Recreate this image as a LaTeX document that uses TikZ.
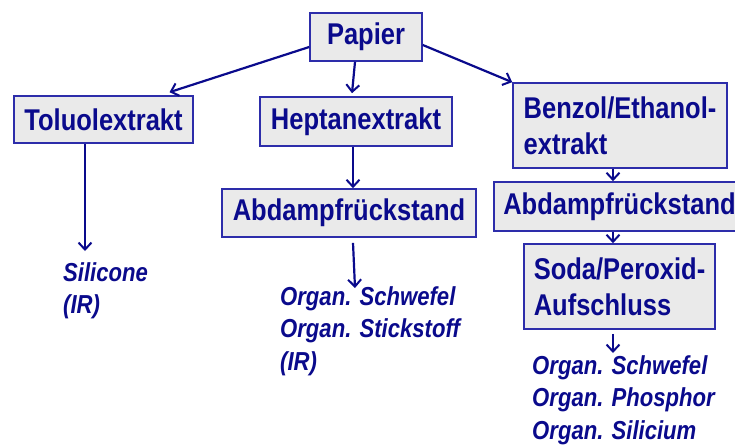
\documentclass[tikz,border=0pt]{standalone}
\usepackage{fontspec}
\setmainfont{Liberation Sans}[FakeStretch=0.85]
\usepackage{tikz}
\usetikzlibrary{positioning, calc, arrows.meta}
\definecolor{navy}{RGB}{10,10,140}
\definecolor{boxline}{RGB}{45,45,170}
\definecolor{boxfill}{RGB}{234,234,234}
\tikzset{extbox/.style={draw=boxline, fill=boxfill, line width=1.6pt, text=navy, font=\fontsize{30}{36}\selectfont\bfseries, inner sep=0pt, align=left},
         arr/.style={draw=navy, line width=2.2pt, -{Straight Barb[length=7pt,width=13pt,line width=2pt]}},
         result/.style={text=navy, font=\fontsize{26}{32.5}\selectfont\bfseries\itshape, inner sep=0pt, align=left, anchor=north west}}

\begin{document}
\begin{tikzpicture}[x=1pt,y=-1pt]
                 \useasboundingbox (0,0) rectangle (735,444);

                 \node[extbox, minimum width=112pt, minimum height=48pt] (papier) at (366,37) {Papier};

                 \node[extbox, minimum width=179pt, minimum height=47pt] (toluol) at (103.5,119.5) {Toluolextrakt};
                 \node[extbox, minimum width=192pt, minimum height=49pt] (heptan) at (356,121.5) {Heptanextrakt};
                 \node[extbox, minimum width=214pt, minimum height=85pt] (benzol) at (620,125.5) {Benzol/Ethanol-\\extrakt};

                 \node[extbox, minimum width=254pt, minimum height=48pt] (abdampfA) at (349,213) {Abdampfrückstand};
                 \node[extbox, minimum width=251pt, minimum height=49pt] (abdampfB) at (619.5,206.5) {Abdampfrückstand};
                 \node[extbox, minimum width=191pt, minimum height=85pt] (soda) at (619.5,286.5) {Soda/Peroxid-\\Aufschluss};

                 \node[result] (silicone) at (63,262) {Silicone\\(IR)};
                 \node[result] (organA) at (280,286) {Organ. Schwefel\\Organ. Stickstoff\\(IR)};
                 \node[result] (organB) at (532,355) {Organ. Schwefel\\Organ. Phosphor\\Organ. Silicium};

                 \draw[arr] ($(papier.west)+(0,10)$) -- ($(toluol.north)+(66,-3)$);
                 \draw[arr] ($(papier.south)+(-11,0)$) -- ($(heptan.north)+(-4,-3)$);
                 \draw[arr] ($(papier.east)+(0,8)$) -- (benzol.north west);

                 \draw[arr] ($(toluol.south)+(-18.5,0)$) -- ($(silicone.north west)+(22,-11)$);
                 \draw[arr] ($(heptan.south)+(-3,0)$) -- ($(abdampfA.north)+(4,0)$);
                 \draw[arr] ($(abdampfA.south)+(4,5)$) -- ($(organA.north west)+(75,2)$);

                 \draw[arr] ($(benzol.south)+(-7,0)$) -- ($(abdampfB.north)+(-6.5,0)$);
                 \draw[arr] ($(abdampfB.south)+(-6.5,0)$) -- ($(soda.north)+(-6.5,0)$);
                 \draw[arr] ($(soda.south)+(-6.5,4)$) -- ($(organB.north west)+(81,-2)$);

\end{tikzpicture}
\end{document}
